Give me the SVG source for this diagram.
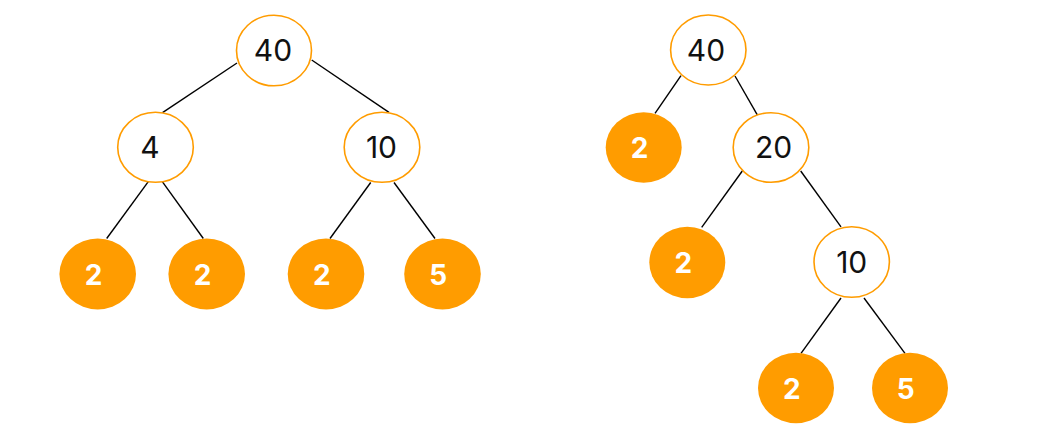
<svg xmlns="http://www.w3.org/2000/svg" width="1059" height="435" viewBox="0 0 1059 435">
<style>
.bg{fill:#ffffff}
.inner ellipse{fill:#ffffff;stroke:#FF9C00;stroke-width:1.6}
.leaf ellipse{fill:#FF9C00;stroke:none}
.inner text{font-family:Inter,"Open Sans","DejaVu Sans",sans-serif;font-size:30px;font-weight:400;fill:#111111;text-anchor:middle}
.leaf text{font-family:Inter,"Open Sans","DejaVu Sans",sans-serif;font-size:28px;font-weight:700;fill:#ffffff;text-anchor:middle}
#edges line{stroke:#000000;stroke-width:1.4}
</style>
<rect class="bg" x="0" y="0" width="1059" height="435"/>
<g id="edges">
<line x1="237" y1="63" x2="162.5" y2="112.7"/>
<line x1="311.7" y1="60" x2="389" y2="112.3"/>
<line x1="148.3" y1="181.7" x2="106.7" y2="238.5"/>
<line x1="162.3" y1="181.7" x2="203.3" y2="238.5"/>
<line x1="370.7" y1="182.5" x2="330" y2="238.5"/>
<line x1="394" y1="182.5" x2="435" y2="238.5"/>
<line x1="681" y1="75.7" x2="655" y2="113.3"/>
<line x1="735" y1="76" x2="758.3" y2="116.7"/>
<line x1="742.3" y1="171" x2="701.7" y2="227.3"/>
<line x1="800.7" y1="171" x2="841" y2="226.9"/>
<line x1="841" y1="298" x2="801" y2="353.3"/>
<line x1="864" y1="298" x2="905" y2="353.3"/>
</g>
<g id="l40" class="inner"><ellipse cx="274" cy="50.5" rx="37.5" ry="35.3"/><text x="273" y="61">40</text></g>
<g id="l4" class="inner"><ellipse cx="155.5" cy="147.3" rx="37.8" ry="35"/><text x="150" y="158">4</text></g>
<g id="l10" class="inner"><ellipse cx="382" cy="147.3" rx="37.8" ry="35"/><text x="381.5" y="158">10</text></g>
<g id="l2a" class="leaf"><ellipse cx="97.7" cy="274" rx="38.3" ry="35.5"/><text x="93.5" y="284.5">2</text></g>
<g id="l2b" class="leaf"><ellipse cx="206.7" cy="274" rx="38.3" ry="35.5"/><text x="202.5" y="284.5">2</text></g>
<g id="l2c" class="leaf"><ellipse cx="326" cy="274" rx="38.3" ry="35.5"/><text x="321.8" y="284.5">2</text></g>
<g id="l5" class="leaf"><ellipse cx="442.5" cy="274" rx="38.3" ry="35.5"/><text x="438.3" y="284.5">5</text></g>
<g id="r40" class="inner"><ellipse cx="708.3" cy="50" rx="37.7" ry="35"/><text x="706" y="60.5">40</text></g>
<g id="r2a" class="leaf"><ellipse cx="643.7" cy="147.5" rx="38" ry="35.3"/><text x="639.5" y="158">2</text></g>
<g id="r20" class="inner"><ellipse cx="771" cy="147.5" rx="37.8" ry="34.8"/><text x="773.5" y="158">20</text></g>
<g id="r2b" class="leaf"><ellipse cx="687.3" cy="262.5" rx="38" ry="35.8"/><text x="683.3" y="273">2</text></g>
<g id="r10" class="inner"><ellipse cx="851.7" cy="262" rx="37.7" ry="35.3"/><text x="851.7" y="272.5">10</text></g>
<g id="r2c" class="leaf"><ellipse cx="796" cy="388" rx="38" ry="35.3"/><text x="791.8" y="398.5">2</text></g>
<g id="r5" class="leaf"><ellipse cx="910" cy="388" rx="38" ry="35.3"/><text x="905.8" y="398.5">5</text></g>
</svg>
